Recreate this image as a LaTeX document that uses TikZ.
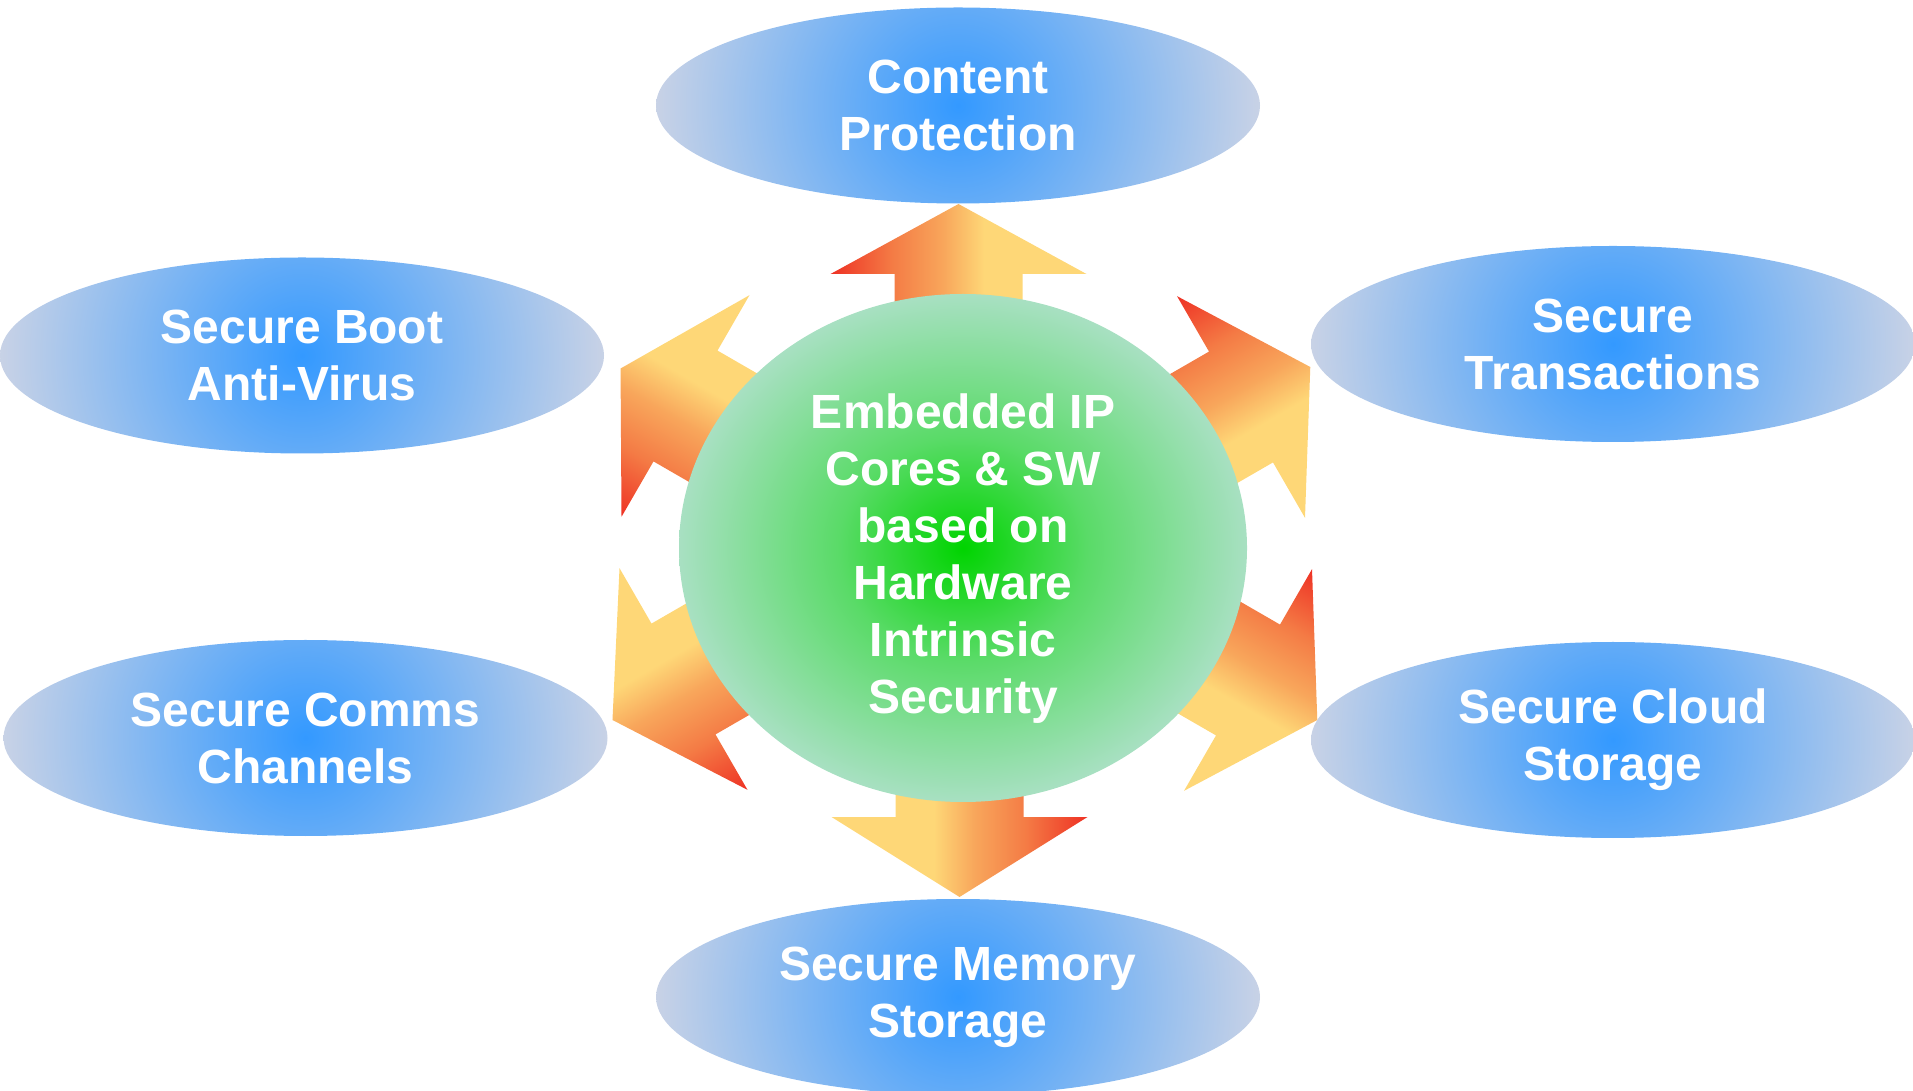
\documentclass[tikz,border=0pt]{standalone}
\usepackage{fontspec}
\setmainfont{Liberation Sans}
\usepackage{tikz}
\usetikzlibrary{shapes}

\definecolor{goalin}{HTML}{3399FF}
\definecolor{goalout}{HTML}{C8D2E6}
\definecolor{hubin}{HTML}{00D400}
\definecolor{hubmid}{HTML}{5ADB68}
\definecolor{hubout}{HTML}{A8E0C2}
\definecolor{arrred}{HTML}{EE3124}
\definecolor{arrorange}{HTML}{F47B45}
\definecolor{arrpeach}{HTML}{F8A65B}
\definecolor{arryellow}{HTML}{FED777}

\pgfdeclarehorizontalshading{arrowfill}{100bp}{color(0bp)=(arrred); color(25bp)=(arrred); color(37bp)=(arrorange); color(47bp)=(arrpeach); color(55bp)=(arryellow); color(100bp)=(arryellow)}
\pgfdeclareradialshading{hubfill}{\pgfpoint{0bp}{0bp}}{color(0bp)=(hubin); color(11bp)=(hubmid); color(25bp)=(hubout); color(50bp)=(hubout)}
\pgfdeclareradialshading{goalfill}{\pgfpoint{0bp}{0bp}}{color(0bp)=(goalin); color(25bp)=(goalout); color(50bp)=(goalout)}

\begin{document}
\begin{tikzpicture}[x=1pt, y=1pt,
    goal/.style={ellipse, minimum width=604pt, minimum height=196pt, inner sep=0pt,
        text=white, align=center, font=\bfseries\fontsize{48}{57}\selectfont,
        path picture={\shade[shading=goalfill] (path picture bounding box.center) circle (302);}},
    hub/.style={ellipse, minimum width=568pt, minimum height=508pt, inner sep=0pt,
        shade, shading=hubfill},
    hubtext/.style={text=white, align=center, font=\bfseries\fontsize{48}{57}\selectfont}]
    \useasboundingbox (0,0) rectangle (1913,1090);

    % Flechas
    \foreach \x/\y/\a/\h in {958.5/816/0/70, 685.5/684/60/75, 1241/683/-60/80,
                             683.5/411/120/82, 1248/410/-120/80, 959.5/273/180/80} {
        \begin{scope}[transform canvas={shift={(\x,\y)}, rotate=\a}]
            \shade[shading=arrowfill] (-64,-150) -- (-64,0) -- (-128,0) -- (0,\h)
                -- (128,0) -- (64,0) -- (64,-150) -- cycle;
        \end{scope}
    }

    % Nodo central
    \node[hub] (hub) at (963,542) {};
    \node[hubtext] (hubtext) at (963,531) {Embedded IP\\Cores \& SW\\based on\\Hardware\\Intrinsic\\Security};

    % Nodos exteriores
    \node[goal] (content) at (958,984.5) {Content\\Protection};
    \node[goal] (boot) at (302,734.5) {Secure Boot\\Anti-Virus};
    \node[goal] (transact) at (1613,746) {Secure\\Transactions};
    \node[goal] (comms) at (305.5,352) {Secure Comms\\Channels};
    \node[goal] (cloud) at (1613,350) {Secure Cloud\\Storage};
    \node[goal] (memory) at (958,93) {Secure Memory\\Storage};
\end{tikzpicture}
\end{document}
